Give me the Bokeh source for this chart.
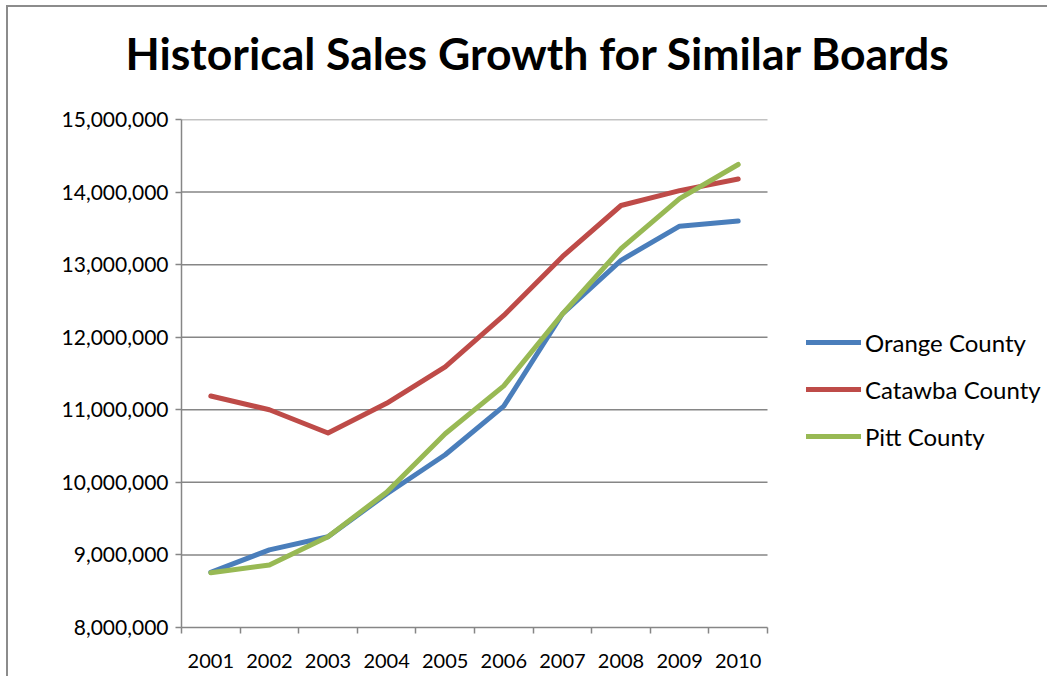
from bokeh.plotting import figure
from bokeh.models import (Range1d, FixedTicker, NumeralTickFormatter, Legend, LegendItem, Title)
from bokeh.embed import file_html
from bokeh.resources import INLINE

years = ["2001", "2002", "2003", "2004", "2005", "2006", "2007", "2008", "2009", "2010"]
orange = [8760000, 9070000, 9250000, 9840000, 10380000, 11050000, 12320000, 13060000, 13530000, 13600000]
catawba = [11190000, 11000000, 10680000, 11090000, 11590000, 12300000, 13110000, 13815000, 14020000, 14180000]
pitt = [8755000, 8860000, 9250000, 9865000, 10670000, 11330000, 12320000, 13220000, 13910000, 14380000]
y_ticks = [8000000, 9000000, 10000000, 11000000, 12000000, 13000000, 14000000, 15000000]

series = [("Orange County", orange, "#4A7EBB"),
          ("Catawba County", catawba, "#BE4B48"),
          ("Pitt County", pitt, "#98B954")]

FONT = "Lato"
GRAY = "#868686"

n = len(years)
xs = [i + 0.5 for i in range(n)]

# layout (pixels)
FIG_W, FIG_H = 1041, 671
LEFT, TOP, BOTTOM = 173, 112, 51
PLOT_W = 586                      # width of the drawn plot area
FRAME_W = FIG_W - LEFT            # frame extends to the right edge (legend lives there)
x_end = n * FRAME_W / PLOT_W

p = figure(width=FIG_W, height=FIG_H, output_backend="svg", toolbar_location=None,
           title=None,
           x_range=Range1d(0, x_end), y_range=Range1d(y_ticks[0], y_ticks[-1]),
           min_border_left=LEFT, min_border_right=0, min_border_top=TOP, min_border_bottom=BOTTOM,
           styles={"margin-left": "6px", "margin-top": "5px",
                   "border-left": "2px solid #8C8C8C", "border-top": "2px solid #8C8C8C"})
p.outline_line_color = None
p.background_fill_color = "white"
p.border_fill_color = "white"

spacer = Title(text=" ", text_font_size="2px", standoff=35)
p.add_layout(spacer, "above")
t = Title(text="Historical Sales Growth for Similar Boards", align="left",
          text_font=FONT, text_font_size="44.5px", text_font_style="bold",
          text_color="black", offset=-56, standoff=4)
p.add_layout(t, "above")

# axes
p.xaxis.bounds = (0, n)
p.xaxis.ticker = FixedTicker(ticks=xs, minor_ticks=list(range(n + 1)))
p.xaxis.major_label_overrides = {x: y for x, y in zip(xs, years)}
p.xaxis.major_tick_line_color = None
p.xaxis.major_tick_out = 6
p.xaxis.minor_tick_line_color = GRAY
p.xaxis.minor_tick_out = 6
p.xaxis.minor_tick_in = 0
p.xaxis.minor_tick_line_width = 1.5
p.xaxis.axis_line_color = GRAY
p.xaxis.axis_line_width = 1.5
p.xaxis.major_label_text_font = FONT
p.xaxis.major_label_text_font_size = "20px"
p.xaxis.major_label_text_color = "black"
p.xaxis.major_label_standoff = 20

p.yaxis.ticker = FixedTicker(ticks=y_ticks)
p.yaxis.formatter = NumeralTickFormatter(format="0,0")
p.yaxis.major_tick_line_color = GRAY
p.yaxis.major_tick_line_width = 1.5
p.yaxis.major_tick_out = 6
p.yaxis.major_tick_in = 0
p.yaxis.minor_tick_line_color = None
p.yaxis.axis_line_color = GRAY
p.yaxis.axis_line_width = 1.5
p.yaxis.major_label_text_font = FONT
p.yaxis.major_label_text_font_size = "21px"
p.yaxis.major_label_text_color = "black"
p.yaxis.major_label_standoff = 7

# horizontal gridlines only across the plotted categories
p.xgrid.grid_line_color = None
p.ygrid.grid_line_color = None
gy = y_ticks[1:]
p.segment(x0=[0] * len(gy), x1=[n] * len(gy), y0=gy, y1=gy,
          line_color=GRAY, line_width=1.5, level="underlay")

items = []
for name, vals, col in series:
    r = p.line(xs, vals, line_color=col, line_width=5, line_join="round", line_cap="round")
    items.append(LegendItem(label=name, renderers=[r]))

legend = Legend(items=items, location=(625, 176), padding=0, margin=0,
                border_line_color=None, background_fill_alpha=0,
                glyph_width=55, glyph_height=30, label_height=30, spacing=17,
                label_standoff=4, label_text_font=FONT, label_text_font_size="24px",
                label_text_color="black")
p.add_layout(legend, "center")

open("out.html", "w").write(file_html(p, INLINE))
